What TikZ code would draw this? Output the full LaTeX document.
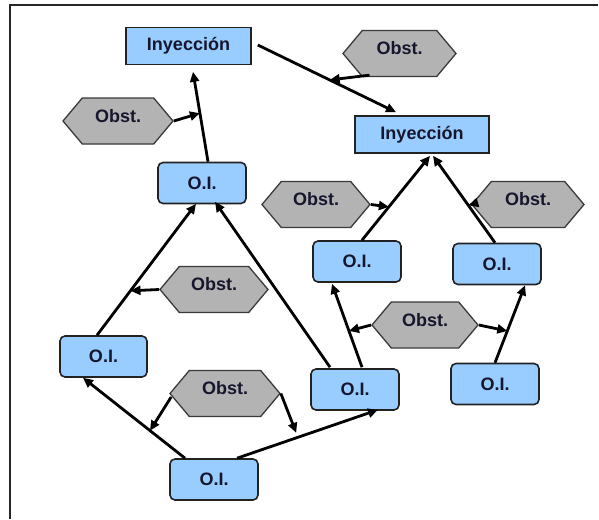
\documentclass[tikz,border=0pt]{standalone}
\usepackage{fontspec}
\setmainfont{Liberation Sans}
\usetikzlibrary{arrows.meta,calc,shapes.symbols}

\definecolor{boxblue}{HTML}{99CCFF}
\definecolor{boxedge}{HTML}{222222}
\definecolor{obstfill}{HTML}{B3B3B3}
\definecolor{obstedge}{HTML}{3A3A3A}
\definecolor{labelink}{HTML}{16162E}

\tikzset{
  lbl/.style={text=labelink, font=\fontsize{18}{21}\selectfont\bfseries, inner sep=0pt},
  inject/.style={lbl, draw=boxedge, line width=1.6pt, fill=boxblue,
    rectangle, minimum height=37pt},
  oi/.style={lbl, draw=boxedge, line width=1.6pt, fill=boxblue,
    rectangle, rounded corners=5pt, minimum width=88pt, minimum height=41pt},
  obst/.style={lbl, draw=obstedge, line width=1.3pt, fill=obstfill,
    shape=signal, signal to=west and east, signal pointer angle=100,
    minimum height=46pt, minimum width=110pt, text height=12pt, text depth=10pt},
  conn/.style={line width=2.8pt, -{Triangle[length=10pt,width=9pt]}},
  frameline/.style={line width=2pt, draw=black!85}
}

\begin{document}
\begin{tikzpicture}[x=1pt,y=-1pt]
  \useasboundingbox (0,0) rectangle (599,519);
  \draw[frameline] (10,519) -- (10,5) -- (598,5);

  % process boxes
  \node[inject, minimum width=125pt] (inj1) at (188.5,46) {Inyección};
  \node[inject, minimum width=134pt] (inj2) at (422,134.5) {Inyección};

  \node[oi] (oiA) at (202,183) {O.I.};
  \node[oi, minimum width=87pt] (oiB) at (103.5,356.5) {O.I.};
  \node[oi] (oiC) at (214,479.5) {O.I.};
  \node[oi] (oiD) at (355,389.5) {O.I.};
  \node[oi] (oiE) at (357,261.5) {O.I.};
  \node[oi] (oiF) at (497,264) {O.I.};
  \node[oi] (oiG) at (495,384) {O.I.};

  % obstacles
  \node[obst, minimum width=113pt] (obA) at (399.5,53.5) {Obst.};
  \node[obst] (obB) at (118,121) {Obst.};
  \node[obst, minimum width=108pt] (obC) at (316,204.5) {Obst.};
  \node[obst, minimum width=112pt] (obD) at (528,204.5) {Obst.};
  \node[obst, minimum width=106pt] (obE) at (425,325) {Obst.};
  \node[obst, minimum width=108pt] (obF) at (214,289.5) {Obst.};
  \node[obst] (obG) at (225,393.5) {Obst.};

  % end points of the main flows
  \coordinate (s1) at ($(inj1.east)+(6,-1)$);
  \coordinate (e1) at ($(inj2.north)+(-26,-3)$);
  \coordinate (s3) at ($(oiA.north)+(6,0)$);
  \coordinate (e3) at ($(inj1.south)+(4.5,6.5)$);
  \coordinate (s5) at ($(oiB.north)+(-6.5,0)$);
  \coordinate (e5) at ($(oiA.south)+(-6,-0.5)$);
  \coordinate (s7) at ($(oiD.north)+(-25,-1)$);
  \coordinate (e7) at ($(oiA.south)+(13,-2.5)$);
  \coordinate (s8) at ($(oiC.north)+(-29,0)$);
  \coordinate (e8) at ($(oiB.south)+(-20.5,0)$);
  \coordinate (s11) at ($(oiC.north)+(23,0)$);
  \coordinate (e11) at ($(oiD.south)+(23,-1)$);
  \coordinate (s12) at ($(oiD.north)+(7,-1)$);
  \coordinate (e12) at ($(oiE.south)+(-25,1)$);
  \coordinate (s15) at ($(oiG.north)+(0,0)$);
  \coordinate (e15) at ($(oiF.south)+(28,0)$);
  \coordinate (s16) at ($(oiE.north)+(5,0)$);
  \coordinate (e16) at ($(inj2.south)+(8,2)$);
  \coordinate (s17) at ($(oiF.north)+(-2,0)$);
  \coordinate (e17) at ($(inj2.south)+(11,2)$);

  % junctions where obstacles act on a flow
  \coordinate (j1) at ($(s1)!0.52!(e1)$);
  \coordinate (j3) at ($(s3)!0.54!(e3)$);
  \coordinate (j5) at ($(s5)!0.338!(e5)$);
  \coordinate (j8) at ($(s8)!0.343!(e8)$);
  \coordinate (j11) at ($(s11)!0.42!(e11)$);
  \coordinate (j12) at ($(s12)!0.435!(e12)$);
  \coordinate (j15) at ($(s15)!0.41!(e15)$);
  \coordinate (j16) at ($(s16)!0.395!(e16)$);
  \coordinate (j17) at ($(s17)!0.43!(e17)$);

  % main flows
  \draw[conn] (s1) -- (e1);
  \draw[conn] (s3) -- (e3);
  \draw[conn] (s5) -- (e5);
  \draw[conn] (s7) -- (e7);
  \draw[conn] (s8) -- (e8);
  \draw[conn] (s11) -- (e11);
  \draw[conn] (s12) -- (e12);
  \draw[conn] (s15) -- (e15);
  \draw[conn] (s16) -- (e16);
  \draw[conn] (s17) -- (e17);

  % obstacle influences
  \draw[conn] ($(obA.south)+(-30,-2)$) -- (j1);
  \draw[conn] (obB.east) -- (j3);
  \draw[conn] (obF.west) -- (j5);
  \draw[conn] ($(obG.west)+(2,3.5)$) -- (j8);
  \draw[conn] (obG.east) -- ($(j11)+(0,-5)$);
  \draw[conn] (obE.west) -- (j12);
  \draw[conn] (obE.east) -- (j15);
  \draw[conn] (obC.east) -- (j16);
  \draw[conn] (obD.west) -- (j17);
\end{tikzpicture}
\end{document}
